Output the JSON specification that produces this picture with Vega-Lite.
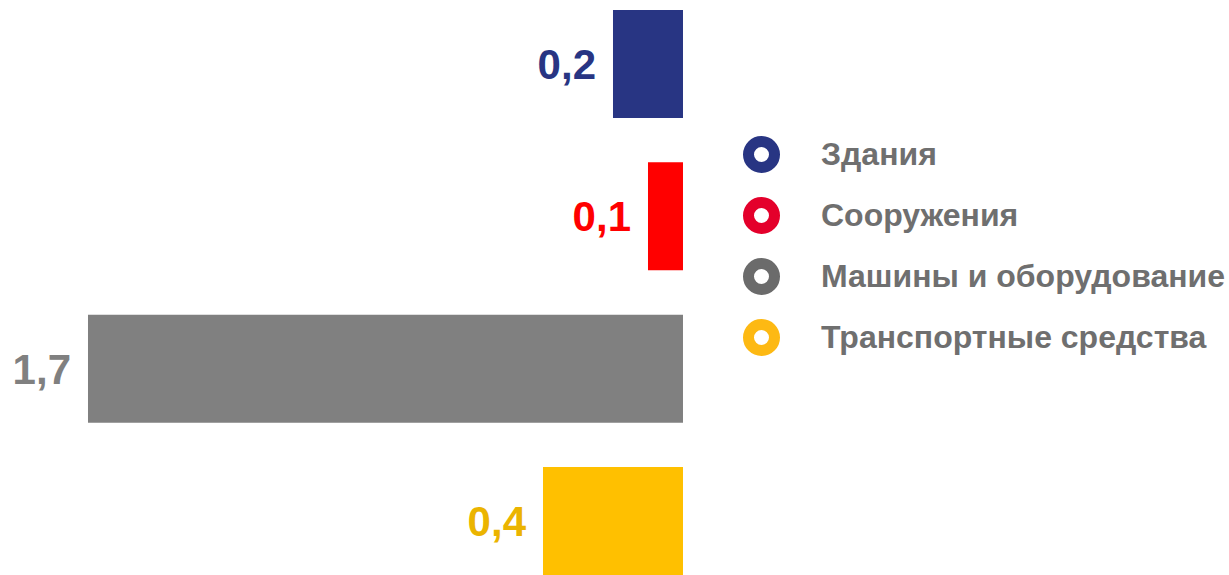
{
  "$schema": "https://vega.github.io/schema/vega-lite/v6.json",
  "width": 1229,
  "height": 575,
  "padding": 0,
  "autosize": {"type": "none"},
  "background": "white",
  "config": {"view": {"stroke": null}, "font": "Liberation Sans"},
  "data": {
    "values": [
      {"category": "Здания", "value": 0.2, "label": "0,2"},
      {"category": "Сооружения", "value": 0.1, "label": "0,1"},
      {"category": "Машины и оборудование", "value": 1.7, "label": "1,7"},
      {"category": "Транспортные средства", "value": 0.4, "label": "0,4"}
    ]
  },
  "encoding": {
    "y": {
      "field": "category",
      "type": "nominal",
      "sort": null,
      "axis": null,
      "scale": {"range": [10, 575], "paddingInner": 0.291, "paddingOuter": 0}
    },
    "x": {
      "field": "value",
      "type": "quantitative",
      "axis": null,
      "scale": {"domain": [-1.56, 1.9514], "reverse": true, "nice": false, "zero": false}
    }
  },
  "layer": [
    {
      "mark": {"type": "bar", "strokeWidth": 0},
      "encoding": {
        "color": {
          "field": "category",
          "type": "nominal",
          "scale": {
            "domain": ["Здания", "Сооружения", "Машины и оборудование", "Транспортные средства"],
            "range": ["#283583", "#FF0000", "#808080", "#FFC000"]
          },
          "legend": null
        },
        "stroke": {
          "field": "category",
          "type": "nominal",
          "scale": {
            "domain": ["Здания", "Сооружения", "Машины и оборудование", "Транспортные средства"],
            "range": ["#283583", "#E4002B", "#6B6B6B", "#FDB913"]
          },
          "legend": {
            "orient": "none",
            "legendX": 743,
            "legendY": 136,
            "title": null,
            "symbolType": "circle",
            "symbolSize": 676,
            "symbolStrokeWidth": 11,
            "symbolFillColor": "white",
            "labelFont": "Liberation Sans",
            "labelFontWeight": "bold",
            "labelFontSize": 32,
            "labelColor": "#6F6F6F",
            "labelOffset": 41,
            "labelLimit": 600,
            "rowPadding": -10,
            "encode": {
              "symbols": {"update": {"fill": {"value": "white"}, "strokeWidth": {"value": 11}}}
            }
          }
        }
      }
    },
    {
      "mark": {
        "type": "text",
        "align": "right",
        "baseline": "middle",
        "dx": -17,
        "dy": 2,
        "font": "Liberation Sans",
        "fontWeight": "bold",
        "fontSize": 42
      },
      "encoding": {
        "text": {"field": "label", "type": "nominal"},
        "color": {
          "field": "category",
          "type": "nominal",
          "scale": {
            "domain": ["Здания", "Сооружения", "Машины и оборудование", "Транспортные средства"],
            "range": ["#283583", "#FF0000", "#808080", "#EBB400"]
          },
          "legend": null
        }
      }
    }
  ],
  "resolve": {"scale": {"color": "independent"}}
}
